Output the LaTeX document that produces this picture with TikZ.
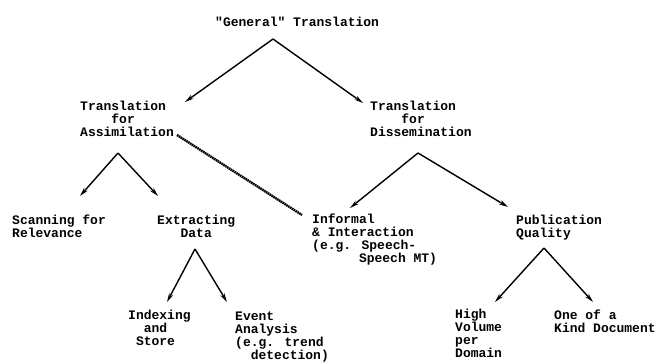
\documentclass[tikz,border=0pt]{standalone}
\usepackage{fontspec}
\newfontfamily\typewriter{Liberation Mono}
\usetikzlibrary{arrows.meta}

\tikzset{lbl/.style={anchor=base west, inner sep=0pt, align=left,
    font=\typewriter\bfseries\fontsize{13}{12.8}\selectfont},
  arr/.style={line width=1.4pt, -{Stealth[length=9pt,width=4.5pt]}}}

\begin{document}
\begin{tikzpicture}[x=1pt,y=-1pt]
    \useasboundingbox (0,0) rectangle (655,362);
    % labels, placed by the baseline of their last line
    \node[lbl] (gen) at (215,26) {"General" Translation};
    \node[lbl] (assim) at (80,136) {Translation\\\hphantom{xxxx}for\\Assimilation};
    \node[lbl] (dissem) at (370,136) {Translation\\\hphantom{xxxx}for\\Dissemination};
    \node[lbl] (scan) at (12,237) {Scanning for\\Relevance};
    \node[lbl] (extract) at (157,237) {Extracting\\\hphantom{xxx}Data};
    \node[lbl] (inform) at (312,262) {Informal\\\& Interaction\\(e.g. Speech-\\\hphantom{xxxxxx}Speech MT)};
    \node[lbl] (publ) at (516,237) {Publication\\Quality};
    \node[lbl] (index) at (128,345) {Indexing\\\hphantom{xx}and\\\hphantom{x}Store};
    \node[lbl] (event) at (235,359) {Event\\Analysis\\(e.g. trend\\\hphantom{xx}detection)};
    \node[lbl] (high) at (455,357) {High\\Volume\\per\\Domain};
    \node[lbl] (one) at (554,332) {One of a\\Kind Document};
    % branch points and arrow ends
    \coordinate (gen-apex) at (273,39);
    \coordinate (assim-tip) at (185,102);
    \coordinate (dissem-tip) at (363,103);
    \coordinate (assim-apex) at (118,153);
    \coordinate (scan-tip) at (80,196);
    \coordinate (extract-tip) at (158,196);
    \coordinate (dissem-apex) at (418,153);
    \coordinate (inform-tip) at (350,208);
    \coordinate (publ-tip) at (508,207);
    \coordinate (extract-apex) at (195,249);
    \coordinate (index-tip) at (167,302);
    \coordinate (event-tip) at (227,302);
    \coordinate (publ-apex) at (544,248);
    \coordinate (high-tip) at (495,302);
    \coordinate (one-tip) at (593,302);
    \coordinate (assim-link) at (177,135);
    \coordinate (inform-link) at (302,215);
    \foreach \a/\b in {gen-apex/assim-tip, gen-apex/dissem-tip, assim-apex/scan-tip, assim-apex/extract-tip,
      dissem-apex/inform-tip, dissem-apex/publ-tip, extract-apex/index-tip, extract-apex/event-tip,
      publ-apex/high-tip, publ-apex/one-tip} { \draw[arr] (\a) -- (\b); }
    \draw[line width=2.4pt, dash pattern=on 1.6pt off 0.6pt] (assim-link) -- (inform-link);
  \end{tikzpicture}
\end{document}
